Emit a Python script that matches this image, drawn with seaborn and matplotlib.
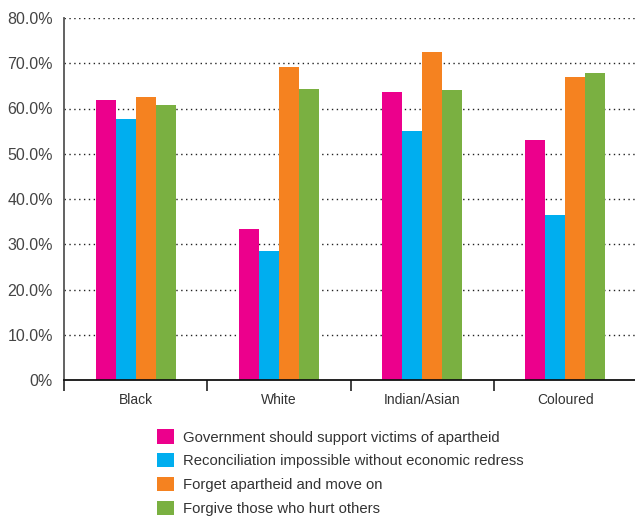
import matplotlib
matplotlib.use("Agg")
import matplotlib.pyplot as plt
import seaborn as sns
import pandas as pd
import numpy as np
from matplotlib.ticker import FixedLocator

categories = ["Black", "White", "Indian/Asian", "Coloured"]
series = [
    "Government should support victims of apartheid",
    "Reconciliation impossible without economic redress",
    "Forget apartheid and move on",
    "Forgive those who hurt others",
]
gov_support = [61.9, 33.4, 63.6, 53.0]
reconciliation = [57.7, 28.5, 55.0, 36.5]
forget = [62.5, 69.2, 72.5, 67.0]
forgive = [60.8, 64.3, 64.1, 67.8]
y_ticks = [0, 10, 20, 30, 40, 50, 60, 70, 80]
y_tick_labels = ["0%", "10.0%", "20.0%", "30.0%", "40.0%", "50.0%", "60.0%", "70.0%", "80.0%"]
colors = ["#EC008C", "#00AEEF", "#F58220", "#7AB041"]

rows = []
for s, vals in zip(series, [gov_support, reconciliation, forget, forgive]):
    for c, v in zip(categories, vals):
        rows.append({"Group": c, "Series": s, "Value": v})
df = pd.DataFrame(rows)

sns.set_theme(style="white")
plt.rcParams["font.family"] = ["Liberation Sans", "DejaVu Sans"]

fig = plt.figure(figsize=(6.35, 5.21), dpi=100)
ax = fig.add_axes([64 / 635, 1 - 380 / 521, (637 - 64) / 635, (380 - 18) / 521])

sns.barplot(data=df, x="Group", y="Value", hue="Series", hue_order=series,
            order=categories, palette=colors, width=0.56, saturation=1,
            edgecolor="none", linewidth=0, ax=ax, legend=True)

ax.set_ylim(0, 80)
ax.set_xlim(-0.5, 3.5)
ax.set_yticks(y_ticks)
ax.set_yticklabels(y_tick_labels, fontsize=11.5, color="#444444")
ax.tick_params(axis="y", length=0, pad=8)
ax.set_xticks(range(len(categories)))
ax.set_xticklabels(categories, fontsize=10, color="#333333")
ax.tick_params(axis="x", which="major", length=0, pad=9)
ax.xaxis.set_minor_locator(FixedLocator([-0.5, 0.5, 1.5, 2.5, 3.5]))
ax.tick_params(axis="x", which="minor", length=8, width=1.2, color="#222222", direction="out", bottom=True)
ax.set_xlabel("")
ax.set_ylabel("")

for y in y_ticks[1:]:
    ax.axhline(y, color="#222222", linestyle=(0, (1, 2.5)), linewidth=1.0, zorder=0)
ax.set_axisbelow(True)

for side in ["top", "right"]:
    ax.spines[side].set_visible(False)
ax.spines["left"].set_color("#555555")
ax.spines["left"].set_linewidth(1.3)
ax.spines["bottom"].set_color("#111111")
ax.spines["bottom"].set_linewidth(1.3)

handles, labels = ax.get_legend_handles_labels()
ax.get_legend().remove()
fig.legend(handles, labels, loc="upper left", bbox_to_anchor=(144 / 635, 1 - 416 / 521),
           frameon=False, fontsize=10.7, handlelength=1.1, handleheight=1.1,
           handletextpad=0.65, labelspacing=0.58, labelcolor="#333333")

fig.savefig("out.png", dpi=100)
